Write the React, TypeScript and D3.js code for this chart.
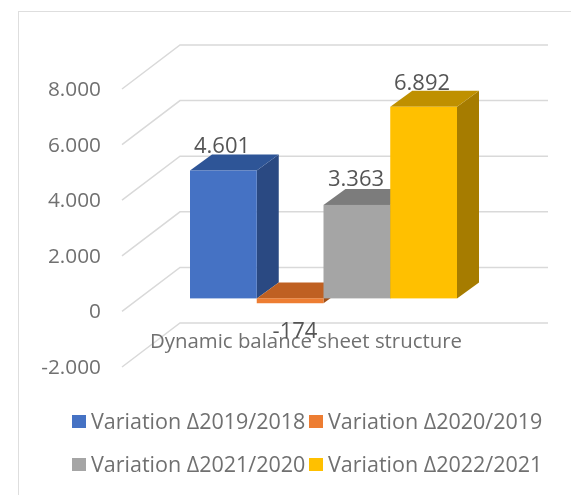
import React from 'react';
import * as d3 from 'd3';

const series = ['Variation Δ2019/2018', 'Variation Δ2020/2019', 'Variation Δ2021/2020', 'Variation Δ2022/2021'];
const values = [4601, -174, 3363, 6892];
const valueLabels = ['4.601', '-174', '3.363', '6.892'];
const ticks = [-2000, 0, 2000, 4000, 6000, 8000];
const tickLabels = ['-2.000', '0', '2.000', '4.000', '6.000', '8.000'];
const frontColors = ['#4472c4', '#ed7d31', '#a5a5a5', '#ffc000'];
const topColors = ['#2f5597', '#bf6120', '#7c7c7c', '#bf9000'];
const sideColors = ['#294a82', '#a04f17', '#636363', '#a67c00'];
const title = 'Dynamic balance sheet structure';

const width = 571;
const height = 495;
const font = '"Open Sans", sans-serif';

// floor depth of the fake 3d box
const wallDx = 58;
const wallDy = -44;
const barShiftY = -13;
const barDx = 22;
const barDy = -16;

const y = d3.scaleLinear().domain([-2000, 8000]).range([367, 89]);
const x = d3.scaleBand<number>().domain(d3.range(series.length)).range([190, 457]);

const legendX = d3.scaleOrdinal<number, number>().domain([0, 1]).range([72, 309]);
const legendY = d3.scaleOrdinal<number, number>().domain([0, 1]).range([422, 465]);

const poly = (pts: [number, number][]) => d3.line()(pts) + 'Z';

export default function App() {
  return (
    <svg width={width} height={height} style={{ position: 'absolute', left: 0, top: 0 }}>
      <defs>
        <filter id="soft" x="0" y="0" width="100%" height="100%">
          <feGaussianBlur stdDeviation="0.55" />
        </filter>
      </defs>
      <rect width={width} height={height} fill="#ffffff" />
      <g filter="url(#soft)">
        <path d={`M18,${height}V11H${width}`} fill="none" stroke="#dedede" strokeWidth={2} />

        {ticks.map((t, i) => (
          <g key={t}>
            <path
              d={`M122,${y(t)}L${122 + wallDx},${y(t) + wallDy}H548`}
              fill="none"
              stroke="#d9d9d9"
              strokeWidth={1.5}
            />
            <text x={101} y={y(t) + 7} textAnchor="end" fontFamily={font} fontSize={20.8} fill="#707070">
              {tickLabels[i]}
            </text>
          </g>
        ))}

        {values.map((v, i) => {
          const x0 = x(i) as number;
          const x1 = x0 + x.bandwidth();
          const top = y(Math.max(v, 0)) + barShiftY;
          const bottom = y(Math.min(v, 0)) + barShiftY;
          return (
            <g key={series[i]}>
              <path
                d={poly([[x1, top], [x1 + barDx, top + barDy], [x1 + barDx, bottom + barDy], [x1, bottom]])}
                fill={sideColors[i]}
              />
              <path
                d={poly([[x0, top], [x0 + barDx, top + barDy], [x1 + barDx, top + barDy], [x1, top]])}
                fill={topColors[i]}
              />
              <rect x={x0} y={top} width={x.bandwidth()} height={bottom - top} fill={frontColors[i]} />
            </g>
          );
        })}

        <text x={306} y={348} textAnchor="middle" fontFamily={font} fontSize={20.4} fill="#707070">
          {title}
        </text>

        <g fontFamily={font} fontSize={22} fill="#555555" textAnchor="middle">
          <text x={222} y={153}>{valueLabels[0]}</text>
          <text x={295} y={338}>{valueLabels[1]}</text>
          <text x={356} y={186}>{valueLabels[2]}</text>
          <text x={422} y={90}>{valueLabels[3]}</text>
        </g>

        {series.map((s, i) => {
          const lx = legendX(i % 2);
          const ly = legendY(Math.floor(i / 2));
          return (
            <g key={s}>
              <rect x={lx} y={ly - 7} width={14} height={13} fill={frontColors[i]} />
              <text x={lx + 19} y={ly + 7} fontFamily={font} fontSize={21.5} fill="#707070">
                {s}
              </text>
            </g>
          );
        })}
      </g>
    </svg>
  );
}
